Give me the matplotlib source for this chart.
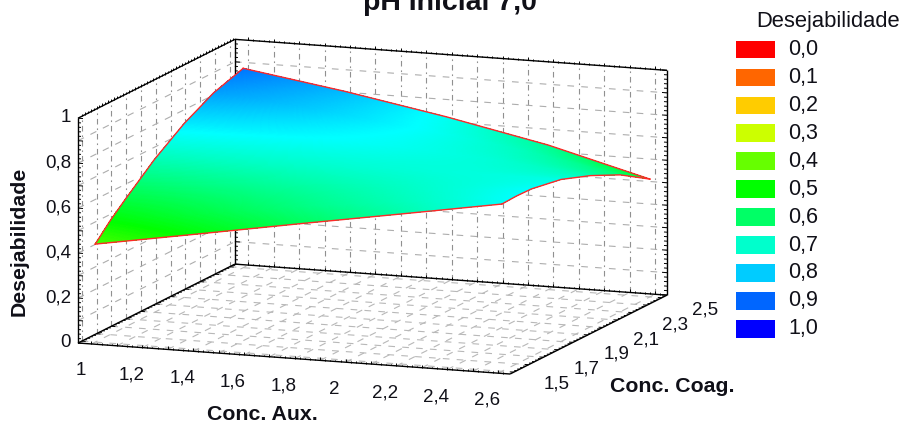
import numpy as np
import matplotlib
matplotlib.use("Agg")
import matplotlib.pyplot as plt
from matplotlib.colors import LinearSegmentedColormap
from matplotlib.patches import Rectangle
from mpl_toolkits.mplot3d import proj3d
from mpl_toolkits.mplot3d.art3d import Line3DCollection

plt.rcParams['font.family'] = ['Liberation Sans', 'DejaVu Sans']

# ---------- data ----------
conc_aux = [1.0, 1.4, 1.8, 2.2, 2.6]
conc_coag = [1.5, 1.6, 1.7, 1.9, 2.1, 2.3, 2.5]
desej_15 = [0.436, 0.513, 0.591, 0.667, 0.744]
desej_16 = [0.506, 0.570, 0.634, 0.690, 0.747]
desej_17 = [0.566, 0.610, 0.656, 0.702, 0.745]
desej_19 = [0.680, 0.690, 0.705, 0.716, 0.721]
desej_21 = [0.773, 0.756, 0.737, 0.710, 0.672]
desej_23 = [0.844, 0.799, 0.748, 0.686, 0.609]
desej_25 = [0.887, 0.817, 0.736, 0.643, 0.524]

legend_levels = ['0,0', '0,1', '0,2', '0,3', '0,4', '0,5', '0,6', '0,7', '0,8', '0,9', '1,0']
legend_colors = ['#ff0000', '#ff6600', '#ffcc00', '#ccff00', '#66ff00', '#00ff00',
                 '#00ff66', '#00ffcc', '#00ccff', '#0066ff', '#0000ff']
x_tick_values = [1, 1.2, 1.4, 1.6, 1.8, 2, 2.2, 2.4, 2.6]
x_tick_labels = ['1', '1,2', '1,4', '1,6', '1,8', '2', '2,2', '2,4', '2,6']
y_tick_values = [1.5, 1.7, 1.9, 2.1, 2.3, 2.5]
y_tick_labels = ['1,5', '1,7', '1,9', '2,1', '2,3', '2,5']
z_tick_values = [0, 0.2, 0.4, 0.6, 0.8, 1]
z_tick_labels = ['0', '0,2', '0,4', '0,6', '0,8', '1']
title_text = 'pH Inicial 7,0'

# ---------- view limits and layout ----------
W, H = 904, 424
XLIM = (0.947, 2.647)
YLIM = (1.475, 2.535)
ZLIM = (0.0, 1.0)
GRID_X = np.round(np.arange(1.0, 2.601, 0.1), 2)
GRID_Y = np.round(np.arange(1.5, 2.501, 0.1), 2)
GRID_Z = np.round(np.arange(0.1, 0.901, 0.1), 2)

fig = plt.figure(figsize=(W / 100, H / 100), dpi=100, facecolor='white')
size = 900.0
ax = fig.add_axes([(W - size) / 2 / W, (H - size) / 2 / H, size / W, size / H],
                  projection='3d', proj_type='ortho', computed_zorder=False)
ax.set_xlim(*XLIM)
ax.set_ylim(*YLIM)
ax.set_zlim(*ZLIM)
ax.set_xticks([])
ax.set_yticks([])
ax.set_zticks([])
ax.view_init(elev=10.95, azim=-69.3)
ax.set_box_aspect((462, 444, 229))
ax.set_axis_off()
ax.patch.set_alpha(0)


def to_px(x, y, z):
    xs, ys, _ = proj3d.proj_transform(x, y, z, ax.get_proj())
    return ax.transData.transform((xs, ys))


# put the box at its place on the canvas
fig.canvas.draw()
span = to_px(XLIM[1], YLIM[1], ZLIM[1])[0] - to_px(XLIM[0], YLIM[0], ZLIM[0])[0]
size *= (667 - 78) / span
ax.set_position([(W - size) / 2 / W, (H - size) / 2 / H, size / W, size / H])
fig.canvas.draw()
a = to_px(XLIM[0], YLIM[0], ZLIM[0])
l = (W - size) / 2 + (78 - a[0])
b = (H - size) / 2 + ((H - 343) - a[1])
ax.set_position([l / W, b / H, size / W, size / H])
fig.canvas.draw()

# ---------- grid ----------
GRAY_F = '#b8b8b8'
GRAY_H = '#adadad'
GRAY_V = '#909090'
DASH = (0, (6, 6.5))
DASHDOT = (0, (5, 3.5, 1.5, 3.5))


def lines(segs, color, ls, lw=0.8, z=1):
    ax.add_collection3d(Line3DCollection(segs, colors=color, linestyles=ls, linewidths=lw, zorder=z))


x0, x1 = XLIM
y0, y1 = YLIM
z0, z1 = ZLIM
# floor
lines([[(x, y0, z0), (x, y1, z0)] for x in GRID_X], GRAY_F, DASH)
lines([[(x0, y, z0), (x1, y, z0)] for y in GRID_Y], GRAY_F, DASH)
# back wall
lines([[(x, y1, z0), (x, y1, z1)] for x in GRID_X], GRAY_V, DASHDOT)
lines([[(x0, y1, z), (x1, y1, z)] for z in GRID_Z], GRAY_H, DASH)
# left wall
lines([[(x0, y, z0), (x0, y, z1)] for y in GRID_Y], GRAY_V, DASHDOT)
lines([[(x0, y0, z), (x0, y1, z)] for z in GRID_Z], GRAY_H, DASH)

# ---------- box edges ----------
edges = [
    [(x0, y0, z0), (x1, y0, z0)], [(x0, y0, z0), (x0, y1, z0)],
    [(x0, y1, z0), (x1, y1, z0)], [(x1, y0, z0), (x1, y1, z0)],
    [(x0, y0, z0), (x0, y0, z1)], [(x0, y1, z0), (x0, y1, z1)],
    [(x1, y1, z0), (x1, y1, z1)], [(x0, y0, z1), (x0, y1, z1)],
    [(x0, y1, z1), (x1, y1, z1)],
]
lines(edges, 'black', 'solid', lw=1.0, z=2)

# ---------- ticks ----------
PX_X, PX_Y, PX_Z = 254.0, 148.0, 225.0
tx = np.round(np.arange(1.0, 2.621, 0.02), 2)
ty = np.round(np.arange(1.5, 2.521, 0.02), 2)
tz = np.round(np.arange(0.0, 1.001, 0.02), 2)


def major(v):
    return abs(v * 10 - round(v * 10)) < 1e-6


segs = []
for z in tz:
    n = (5 if major(z) else 3) / PX_X
    segs.append([(x0, y0, z), (x0 + n, y0, z)])
    segs.append([(x0, y1, z), (x0 + n, y1, z)])
    segs.append([(x1, y1, z), (x1 - n, y1, z)])
for x in tx:
    n = (3 if major(x) else 1.5) / PX_Z
    segs.append([(x, y0, z0), (x, y0, z0 + n)])
    segs.append([(x, y1, z0), (x, y1, z0 + n)])
    segs.append([(x, y1, z1), (x, y1, z1 + n)])
for y in ty:
    n = (4 if major(y) else 2.5) / PX_X
    segs.append([(x0, y, z0), (x0 + n, y, z0)])
    segs.append([(x1, y, z0), (x1 - n, y, z0)])
    segs.append([(x0, y, z1), (x0, y, z1 + 2.5 / PX_Z)])
lines(segs, 'black', 'solid', lw=0.7, z=2)

# ---------- surface ----------
ramp = [(i / 10, c) for i, c in enumerate(legend_colors)]
ramp += [(0.25, '#ffff00'), (0.75, '#00ffff')]
cmap = LinearSegmentedColormap.from_list('desej', sorted(ramp), N=512)
Z_tab = np.array([desej_15, desej_16, desej_17, desej_19, desej_21, desej_23, desej_25])
fx = np.linspace(conc_aux[0], conc_aux[-1], 241)
fy = np.linspace(conc_coag[0], conc_coag[-1], 151)
Z_cols = np.array([np.interp(fx, conc_aux, row) for row in Z_tab])
Z_fine = np.array([np.interp(fy, conc_coag, Z_cols[:, i]) for i in range(fx.size)]).T
XX, YY = np.meshgrid(fx, fy)
ax.plot_surface(XX, YY, Z_fine, facecolors=cmap(Z_fine), rstride=1, cstride=1,
                shade=False, antialiased=False, linewidth=0, zorder=3)

# surface border
RED = '#ff2828'
ax.plot(conc_aux, [conc_coag[0]] * 5, Z_tab[0], color=RED, lw=1.0, zorder=4)
ax.plot(conc_aux, [conc_coag[-1]] * 5, Z_tab[-1], color=RED, lw=1.0, zorder=4)
ax.plot([conc_aux[0]] * 7, conc_coag, Z_tab[:, 0], color=RED, lw=1.0, zorder=4)
ax.plot([conc_aux[-1]] * 7, conc_coag, Z_tab[:, -1], color=RED, lw=1.0, zorder=4)

# restore limits possibly altered by the artists
ax.set_xlim(*XLIM)
ax.set_ylim(*YLIM)
ax.set_zlim(*ZLIM)
fig.canvas.draw()

# ---------- tick labels, placed through the 3D projection ----------
TXT = '#101018'


def label3d(x, y, z, s, **kw):
    p = to_px(x, y, z)
    fig.text(p[0] / W, p[1] / H, s, color=TXT, va='center', fontsize=13.5, **kw)


for v, s in zip(x_tick_values, x_tick_labels):
    label3d(v, y0 - 0.0743, -0.0956, s, ha='center')
for v, s in zip(y_tick_values, y_tick_labels):
    label3d(x1 + 0.17, v, -0.04, s, ha='center')
for v, s in zip(z_tick_values, z_tick_labels):
    label3d(x0 - 7 / PX_X, y0, v, s, ha='right')


def ftext(px, py, s, **kw):
    fig.text(px / W, 1 - py / H, s, color=TXT, **kw)


# ---------- titles ----------
ftext(450, 10, title_text, fontsize=20.5, fontweight='bold', ha='center', va='baseline')
ftext(262, 414, 'Conc. Aux.', fontsize=15.3, fontweight='bold', ha='center', va='center')
ftext(672, 387, 'Conc. Coag.', fontsize=15.3, fontweight='bold', ha='center', va='center')
ftext(19, 241, 'Desejabilidade', fontsize=15.3, fontweight='bold', ha='center', va='center', rotation=90)

# ---------- legend ----------
ftext(828, 21, 'Desejabilidade', fontsize=15.8, ha='center', va='center')
for i, (lab, col) in enumerate(zip(legend_levels, legend_colors)):
    top = 40.7 + i * 27.93
    fig.add_artist(Rectangle((735.7 / W, 1 - (top + 17.6) / H), 39.3 / W, 17.6 / H,
                             transform=fig.transFigure, facecolor=col, edgecolor='none'))
    ftext(788, top + 8.8, lab, fontsize=15.5, ha='left', va='center')

fig.savefig('out.png', dpi=100, facecolor='white')
